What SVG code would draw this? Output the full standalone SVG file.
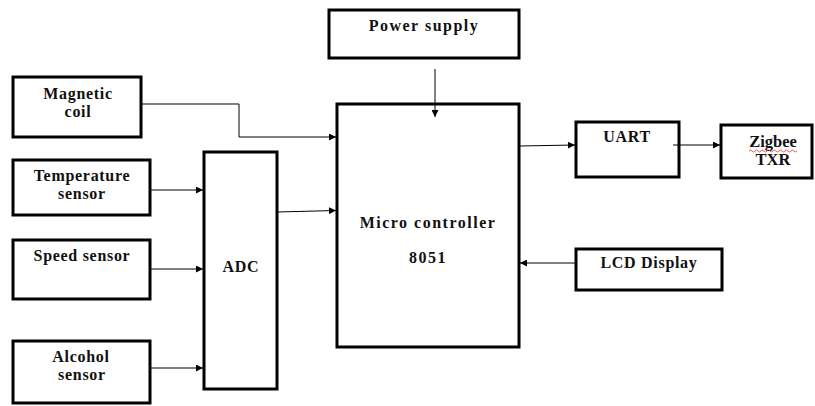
<svg xmlns="http://www.w3.org/2000/svg" width="815" height="406" viewBox="0 0 815 406">
<style>
.box{fill:#fff;stroke:#000;stroke-width:3}
.t{font-family:"Liberation Serif","Times New Roman",serif;font-weight:bold;font-size:16px;fill:#111;text-anchor:middle;letter-spacing:0.7px}
.w{letter-spacing:1.5px}
.c{fill:none;stroke:#000;stroke-width:1}
</style>
<defs>
<marker id="ah" viewBox="0 0 10 10" refX="10" refY="5" markerWidth="9" markerHeight="7" markerUnits="userSpaceOnUse" orient="auto">
<path d="M0,0 L10,5 L0,10 z" fill="#000"/>
</marker>
</defs>
<rect width="815" height="406" fill="#fff"/>
<g id="power"><rect class="box" x="329" y="10" width="190" height="48"/><text class="t w" x="424" y="31">Power supply</text></g>
<g id="magnetic"><rect class="box" x="13" y="77" width="128" height="60"/><text class="t" x="78" y="99">Magnetic</text><text class="t" x="78" y="117">coil</text></g>
<g id="temperature"><rect class="box" x="13" y="160" width="137" height="55"/><text class="t" x="82" y="181">Temperature</text><text class="t" x="82" y="199">sensor</text></g>
<g id="speed"><rect class="box" x="13" y="240" width="137" height="59"/><text class="t" x="82" y="261">Speed sensor</text></g>
<g id="alcohol"><rect class="box" x="13" y="341" width="137" height="62"/><text class="t" x="81" y="362">Alcohol</text><text class="t" x="82" y="380">sensor</text></g>
<g id="adc"><rect class="box" x="204" y="152" width="73" height="237"/><text class="t" x="241" y="272">ADC</text></g>
<g id="mcu"><rect class="box" x="337" y="104" width="182" height="243"/><text class="t w" x="428" y="228">Micro controller</text><text class="t w" x="428" y="263">8051</text></g>
<g id="uart"><rect class="box" x="576" y="122" width="103" height="55"/><text class="t" x="627" y="142">UART</text></g>
<g id="zigbee"><rect class="box" x="721" y="125" width="91" height="53"/><text class="t" x="773" y="147" style="letter-spacing:0;font-size:16.5px">Zigbee</text><text class="t" x="773" y="165" style="letter-spacing:0;font-size:16.5px">TXR</text><path d="M749,151 q1.5,-2 3,0 t3,0 t3,0 t3,0 t3,0 t3,0 t3,0 t3,0 t3,0 t3,0 t3,0 t3,0 t3,0 t3,0 t3,0 t3,0" fill="none" stroke="#e03030" stroke-width="0.8"/></g>
<g id="lcd"><rect class="box" x="576" y="249" width="146" height="41"/><text class="t" x="649" y="268">LCD Display</text></g>
<g id="connectors">
<path class="c" d="M435,69 V117" marker-end="url(#ah)"/>
<path class="c" d="M141,104 H239 V137 H336" marker-end="url(#ah)"/>
<path class="c" d="M150,190 H203" marker-end="url(#ah)"/>
<path class="c" d="M150,269 H203" marker-end="url(#ah)"/>
<path class="c" d="M150,368 H203" marker-end="url(#ah)"/>
<path class="c" d="M277,212 L336,210.5" marker-end="url(#ah)"/>
<path class="c" d="M519,146 L575,145" marker-end="url(#ah)"/>
<path class="c" d="M673,145 H720" marker-end="url(#ah)"/>
<path class="c" d="M576,263 H520" marker-end="url(#ah)"/>
</g>
</svg>
